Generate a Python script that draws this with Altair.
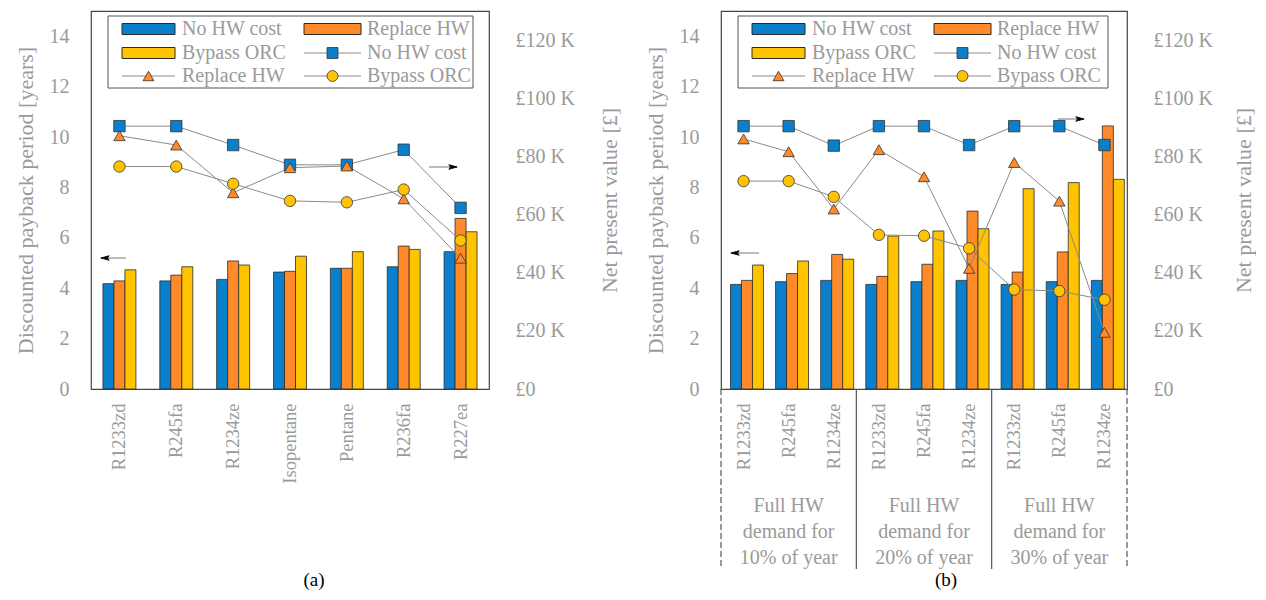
import altair as alt
import pandas as pd

FONT = "Liberation Serif"
TXT = "#9a9a9a"
SCEN = ["No HW cost", "Replace HW", "Bypass ORC"]
COLORS = ["#0A80CC", "#FF8A2A", "#FFC300"]
SHAPES = ["square", "triangle-up", "circle"]

# ---------------- panel (a) ----------------
fluids_a = ["R1233zd", "R245fa", "R1234ze", "Isopentane", "Pentane", "R236fa", "R227ea"]
pay_a_nohw = [4.18, 4.29, 4.35, 4.64, 4.79, 4.85, 5.45]
pay_a_repl = [4.29, 4.52, 5.08, 4.67, 4.79, 5.67, 6.77]
pay_a_byp = [4.73, 4.85, 4.92, 5.27, 5.45, 5.54, 6.24]
npv_a_nohw = [90.4, 90.4, 83.9, 77.1, 77.1, 82.3, 62.3]
npv_a_repl = [87.1, 83.9, 67.5, 76.1, 76.7, 65.4, 45.0]
npv_a_byp = [76.5, 76.5, 70.6, 64.7, 64.2, 68.6, 51.1]

# ---------------- panel (b) ----------------
fluids_b = ["R1233zd", "R245fa", "R1234ze"]
groups_b = ["10%", "20%", "30%"]
group_labels_b = ["Full HW\ndemand for\n10% of year",
                  "Full HW\ndemand for\n20% of year",
                  "Full HW\ndemand for\n30% of year"]
pay_b_nohw = [4.15, 4.26, 4.31, 4.15, 4.26, 4.31, 4.15, 4.26, 4.31]
pay_b_repl = [4.31, 4.58, 5.34, 4.47, 4.95, 7.06, 4.64, 5.44, 10.44]
pay_b_byp = [4.92, 5.08, 5.15, 6.07, 6.27, 6.36, 7.95, 8.19, 8.32]
npv_b_nohw = [90.4, 90.4, 83.7, 90.4, 90.4, 83.9, 90.4, 90.4, 83.9]
npv_b_repl = [86.0, 81.6, 61.9, 82.3, 73.0, 41.5, 77.9, 64.6, 19.5]
npv_b_byp = [71.5, 71.5, 66.1, 53.0, 52.7, 48.4, 34.2, 33.7, 30.7]

cats_a = fluids_a
cats_b = [f + "|" + g for g in groups_b for f in fluids_b]


def long_df(cats, pays, npvs):
    rows = []
    for s, pv, nv in zip(SCEN, pays, npvs):
        for i, c in enumerate(cats):
            rows.append({"cat": c, "scenario": s, "years": pv[i], "npv": nv[i], "idx": i})
    return pd.DataFrame(rows)


df_a = long_df(cats_a, [pay_a_nohw, pay_a_repl, pay_a_byp], [npv_a_nohw, npv_a_repl, npv_a_byp])
df_b = long_df(cats_b, [pay_b_nohw, pay_b_repl, pay_b_byp], [npv_b_nohw, npv_b_repl, npv_b_byp])

ONE = pd.DataFrame({"k": [0]})
H = 378
W_A = 398
W_B = 406


def xenc(cats):
    return alt.X("cat:N", sort=cats,
                 scale=alt.Scale(domain=cats, paddingInner=0.42, paddingOuter=0.21),
                 axis=alt.Axis(title=None, labelAngle=270, labelAlign="right", labelBaseline="middle",
                               labelPadding=14, labelFontSize=18.5,
                               labelExpr="split(datum.label, '|')[0]"))


def rule(x1, x2, y1, y2, color="#8a8a8a", width=1, dash=None):
    kw = dict(color=color, strokeWidth=width)
    if dash:
        kw["strokeDash"] = dash
    return alt.Chart(ONE).mark_rule(**kw).encode(
        x=alt.value(x1), x2=alt.value(x2), y=alt.value(y1), y2=alt.value(y2))


def marker(x, y, shape, fill, size=120, stroke="#333"):
    return alt.Chart(ONE).mark_point(shape=shape, filled=True, fill=fill, stroke=stroke,
                                     strokeWidth=0.8, size=size, opacity=1).encode(
        x=alt.value(x), y=alt.value(y))


def label(x, y, text, size=20, color=TXT, align="left"):
    return alt.Chart(ONE).mark_text(font=FONT, fontSize=size, color=color, align=align,
                                    baseline="middle").encode(
        x=alt.value(x), y=alt.value(y), text=alt.value(text))


def legend_layers(right):
    L = []
    L.append(alt.Chart(ONE).mark_rect(fill="white", stroke="#555", strokeWidth=1).encode(
        x=alt.value(17), x2=alt.value(right), y=alt.value(5), y2=alt.value(77)))
    # entries in row-major order, 2 columns
    entries = [("bar", 0), ("bar", 1), ("bar", 2), ("line", 0), ("line", 1), ("line", 2)]
    rows_y = [18, 42, 65]
    cols = [(31, 84, 91), (213, 270, 276)]
    for k, (kind, si) in enumerate(entries):
        r, c = divmod(k, 2)
        x0, x1, tx = cols[c]
        y = rows_y[r]
        if kind == "bar":
            L.append(alt.Chart(ONE).mark_rect(fill=COLORS[si], stroke="#2b2b2b", strokeWidth=1).encode(
                x=alt.value(x0), x2=alt.value(x1), y=alt.value(y - 5.5), y2=alt.value(y + 5.5)))
        else:
            L.append(rule(x0, x1, y, y))
            L.append(marker((x0 + x1) / 2, y, SHAPES[si], COLORS[si]))
        L.append(label(tx, y, SCEN[si]))
    return L


ARROW_R = "M-1,-0.55L1,0L-1,0.55L-0.6,0Z"
ARROW_L = "M1,-0.55L-1,0L1,0.55L0.6,0Z"


def arrow(x1, x2, y, direction):
    layers = [rule(x1, x2, y, y, color="#777", width=1)]
    if direction == "left":
        layers.append(marker(x1 + 4, y, ARROW_L, "black", size=70, stroke="black"))
    else:
        layers.append(marker(x2 - 4, y, ARROW_R, "black", size=70, stroke="black"))
    return layers


def panel(df, cats, width, legend_right, arrows, caption, caption_x, right_title_pad, extras):
    x = xenc(cats)
    base = alt.Chart(df)
    bars = base.mark_bar(stroke="#2b2b2b", strokeWidth=0.8).encode(
        x=x,
        xOffset=alt.XOffset("scenario:N", sort=SCEN,
                            scale=alt.Scale(domain=SCEN, paddingInner=0, paddingOuter=0)),
        y=alt.Y("years:Q", scale=alt.Scale(domain=[0, 15], nice=False),
                axis=alt.Axis(values=list(range(0, 15, 2)),
                              title="Discounted payback period [years]",
                              labelPadding=22, titlePadding=12)),
        fill=alt.Fill("scenario:N", scale=alt.Scale(domain=SCEN, range=COLORS), legend=None),
    )
    ynpv = alt.Y("npv:Q", scale=alt.Scale(domain=[0, 130], nice=False),
                 axis=alt.Axis(orient="right", values=[0, 20, 40, 60, 80, 100, 120],
                               labelExpr="datum.value == 0 ? '£0' : '£' + datum.value + ' K'",
                               title="Net present value [£]", titleAngle=270, titleBaseline="top",
                               labelPadding=26, titlePadding=right_title_pad))
    lines = base.mark_line(color="#8a8a8a", strokeWidth=1).encode(
        x=x, y=ynpv, detail="scenario:N", order="idx:Q")
    pts = base.mark_point(filled=True, size=130, stroke="#333", strokeWidth=0.8, opacity=1).encode(
        x=x, y=ynpv,
        fill=alt.Fill("scenario:N", scale=alt.Scale(domain=SCEN, range=COLORS), legend=None),
        shape=alt.Shape("scenario:N", scale=alt.Scale(domain=SCEN, range=SHAPES), legend=None))
    main = alt.layer(bars, alt.layer(lines, pts)).resolve_scale(y="independent")
    ann = []
    for a in arrows:
        ann += arrow(*a)
    ann += legend_layers(legend_right)
    ann.append(label(caption_x, 569, caption, size=19, color="black", align="center"))
    ann += extras(x) if extras else []
    return alt.layer(main, *ann).properties(width=width, height=H)


def extras_b(x):
    step = W_B / len(cats_b)
    L = []
    for i, xb in enumerate([0, 3 * step, 6 * step, W_B]):
        dash = [6, 3] if i in (0, 3) else None
        L.append(rule(xb, xb, H, H + 180, color="#555", width=1.2, dash=dash))
    gdf = pd.DataFrame({"cat": [cats_b[1], cats_b[4], cats_b[7]], "lab": group_labels_b})
    L.append(alt.Chart(gdf).mark_text(font=FONT, fontSize=20, color=TXT, lineBreak="\n",
                                      lineHeight=26, baseline="middle", align="center").encode(
        x=x, y=alt.value(495), text="lab:N"))
    return L


pa = panel(df_a, cats_a, W_A, 382,
           [(10, 35, 247, "left"), (338, 366, 156, "right")], "(a)", 223, 25, None)
pb = panel(df_b, cats_b, W_B, 387,
           [(10, 38, 242, "left"), (337, 363, 108, "right")], "(b)", 225, 21, extras_b)

chart = alt.hconcat(pa, pb, spacing=232, bounds="flush").configure_view(
    stroke="#444", strokeWidth=1.2
).configure_axis(
    labelFont=FONT, titleFont=FONT, labelColor=TXT, titleColor=TXT,
    labelFontSize=20, titleFontSize=22, titleFontWeight="normal",
    ticks=False, domain=False, grid=False
).properties(padding={"left": 5, "top": 2, "right": 0, "bottom": 2})

chart.save("out.html", embed_options={"renderer": "svg", "actions": False})
